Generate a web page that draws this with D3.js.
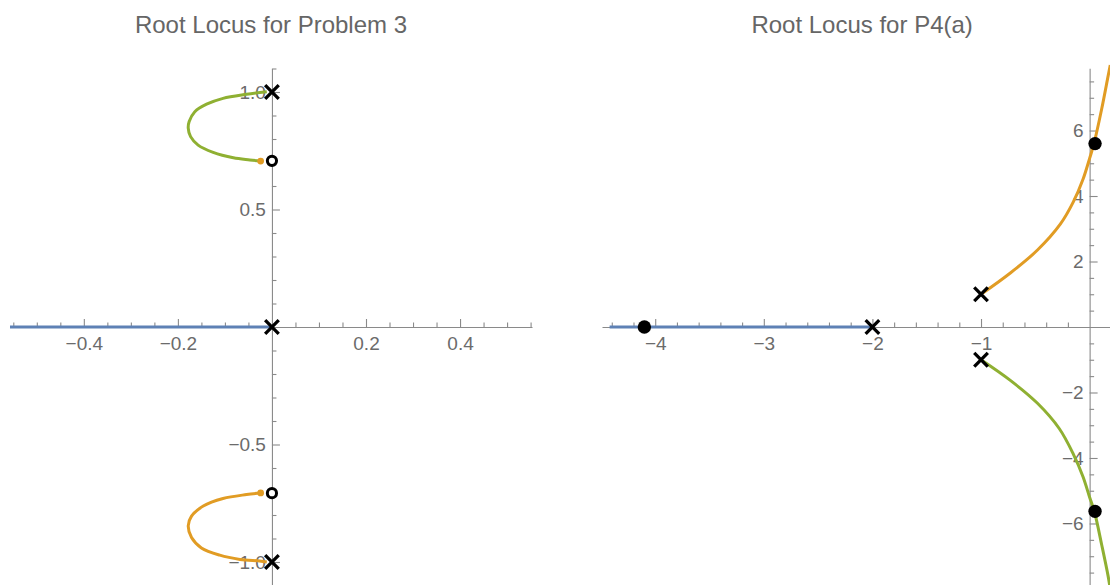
<!DOCTYPE html>
<html>
<head>
<meta charset="utf-8">
<script src="https://cdn.jsdelivr.net/npm/d3@7"></script>
<style>
    html, body { margin: 0; padding: 0; background: #fff; }
    svg { display: block; }
    .tick text { font-family: "Liberation Sans", Arial, sans-serif; font-size: 19px; fill: #6b6b6b; }
    .title { font-family: "Liberation Sans", Arial, sans-serif; font-size: 24px; fill: #666; }
</style>
</head>
<body>
<svg id="chart" width="1110" height="585"></svg>
<script>

/* ------------------------------
   DATA
------------------------------ */

// Problem 3
const p3PolesX = [0, 0, 0];
const p3PolesY = [1, 0, -1];
const p3ZerosX = [0, 0];
const p3ZerosY = [0.707, -0.707];
const p3RealX = [-0.557, 0];
const p3UpperX = [-0.011, -0.054, -0.104, -0.139, -0.164, -0.176, -0.178, -0.173, -0.157, -0.125, -0.082, -0.047, -0.024];
const p3UpperY = [1.001, 0.990, 0.973, 0.948, 0.916, 0.874, 0.846, 0.810, 0.774, 0.743, 0.720, 0.711, 0.706];
const p3LowerX = [-0.024, -0.054, -0.104, -0.146, -0.171, -0.178, -0.171, -0.150, -0.111, -0.068, -0.026, -0.011];
const p3LowerY = [-0.706, -0.713, -0.730, -0.762, -0.805, -0.846, -0.896, -0.940, -0.971, -0.989, -0.996, -1.0];
const p3EndX = [-0.024, -0.024];
const p3EndY = [0.706, -0.706];
const p3XTicks = [-0.4, -0.2, 0.2, 0.4];
const p3YTicks = [-1.0, -0.5, 0.5, 1.0];

// P4(a)
const p4PolesX = [-2, -1, -1];
const p4PolesY = [0, 1, -1];
const p4DotsX = [-4.1, 0.05, 0.05];
const p4DotsY = [0, 5.6, -5.63];
const p4RealX = [-4.42, -2];
const p4UpperX = [-1, -0.73, -0.48, -0.27, -0.15, -0.06, 0.0, 0.04, 0.11, 0.17, 0.19];
const p4UpperY = [1, 1.65, 2.35, 3.14, 3.82, 4.52, 5.15, 5.6, 6.64, 7.66, 8.0];
const p4LowerX = [-1, -0.73, -0.48, -0.28, -0.15, -0.06, 0.0, 0.045, 0.113, 0.17, 0.19];
const p4LowerY = [-1, -1.63, -2.33, -3.1, -3.88, -4.58, -5.2, -5.65, -6.68, -7.6, -8.0];
const p4XTicks = [-4, -3, -2, -1];
const p4YTicks = [-6, -4, -2, 2, 4, 6];

const colBlue = "#5e81b5";
const colOrange = "#e19c24";
const colGreen = "#8fb032";

const svg = d3.select("#chart");

const fmt = d => d3.format(".1f")(d).replace("-", "\u2212");
const fmtInt = d => String(d).replace("-", "\u2212");

/* ------------------------------
   PANEL
------------------------------ */

function drawPanel(cfg) {

    const g = svg.append("g");
    const x = d3.scaleLinear().domain(cfg.xDomain).range(cfg.xRange);
    const y = d3.scaleLinear().domain(cfg.yDomain).range(cfg.yRange);
    const x0 = x(0), y0 = y(0);

    // minor ticks first
    g.append("g")
        .attr("transform", `translate(0,${y0})`)
        .call(d3.axisBottom(x).tickValues(cfg.xMinor).tickSizeInner(-4.5).tickSizeOuter(0).tickFormat(""))
        .call(a => a.select(".domain").remove());
    g.append("g")
        .attr("transform", `translate(${x0},0)`)
        .call(d3.axisLeft(y).tickValues(cfg.yMinor).tickSizeInner(-4.5).tickSizeOuter(0).tickFormat(""))
        .call(a => a.select(".domain").remove());

    // major ticks + axis lines
    g.append("g")
        .attr("transform", `translate(0,${y0})`)
        .call(d3.axisBottom(x).tickValues(cfg.xTicks).tickSizeInner(-8).tickSizeOuter(0).tickPadding(10).tickFormat(cfg.fmt));
    g.append("g")
        .attr("transform", `translate(${x0},0)`)
        .call(d3.axisLeft(y).tickValues(cfg.yTicks).tickSizeInner(-8).tickSizeOuter(0).tickPadding(6).tickFormat(cfg.fmt));

    g.selectAll(".domain, .tick line").attr("stroke", "#8a8a8a").attr("stroke-width", 1.1);

    // title
    g.append("text")
        .attr("class", "title")
        .attr("x", (cfg.xRange[0] + cfg.xRange[1]) / 2)
        .attr("y", 33)
        .attr("text-anchor", "middle")
        .text(cfg.title);

    const line = d3.line().x(d => x(d[0])).y(d => y(d[1])).curve(d3.curveCatmullRom);

    // real axis branch
    g.append("path")
        .datum(cfg.realX.map(v => [v, 0]))
        .attr("d", line)
        .attr("fill", "none")
        .attr("stroke", colBlue)
        .attr("stroke-width", 3);

    cfg.branches.forEach(b => {
        g.append("path")
            .datum(b.xs.map((v, i) => [v, b.ys[i]]))
            .attr("d", line)
            .attr("fill", "none")
            .attr("stroke", b.color)
            .attr("stroke-width", 3);
    });

    return { g, x, y };
}

function drawCross(g, x, y, xs, ys) {
    const s = 6.8;
    g.selectAll(null)
        .data(xs.map((v, i) => [v, ys[i]]))
        .enter()
        .append("path")
        .attr("d", d => {
            const cx = x(d[0]), cy = y(d[1]);
            return `M${cx - s},${cy - s}L${cx + s},${cy + s}M${cx - s},${cy + s}L${cx + s},${cy - s}`;
        })
        .attr("stroke", "#000")
        .attr("stroke-width", 3.3)
        .attr("fill", "none");
}

function drawDots(g, x, y, xs, ys, r, fill, stroke, sw) {
    g.selectAll(null)
        .data(xs.map((v, i) => [v, ys[i]]))
        .enter()
        .append("circle")
        .attr("cx", d => x(d[0]))
        .attr("cy", d => y(d[1]))
        .attr("r", r)
        .attr("fill", fill)
        .attr("stroke", stroke)
        .attr("stroke-width", sw);
}

/* ------------------------------
   LEFT: PROBLEM 3
------------------------------ */

const left = drawPanel({
    title: "Root Locus for Problem 3",
    xDomain: [-0.557, 0.553], xRange: [10, 532],
    yDomain: [-1.1, 1.1], yRange: [585.5, 68.5],
    xTicks: p3XTicks, yTicks: p3YTicks,
    xMinor: d3.range(-11, 12).filter(i => i % 4 !== 0).map(i => i * 0.05),
    yMinor: d3.range(-11, 12).filter(i => i % 5 !== 0).map(i => i * 0.1),
    fmt: fmt,
    realX: p3RealX,
    branches: [
        { xs: p3UpperX, ys: p3UpperY, color: colGreen },
        { xs: p3LowerX, ys: p3LowerY, color: colOrange }
    ]
});

drawDots(left.g, left.x, left.y, p3EndX, p3EndY, 3.4, colOrange, "none", 0);
drawDots(left.g, left.x, left.y, p3ZerosX, p3ZerosY, 4.6, "#fff", "#000", 3);
drawCross(left.g, left.x, left.y, p3PolesX, p3PolesY);

/* ------------------------------
   RIGHT: P4(a)
------------------------------ */

const right = drawPanel({
    title: "Root Locus for P4(a)",
    xDomain: [-4.49, 0.30], xRange: [602, 1122.2],
    yDomain: [-7.9, 7.9], yRange: [585.7, 68.3],
    xTicks: p4XTicks, yTicks: p4YTicks,
    xMinor: d3.range(-22, 2).filter(i => i % 5 !== 0).map(i => i * 0.2),
    yMinor: d3.range(-15, 16).filter(i => i % 4 !== 0).map(i => i * 0.5),
    fmt: fmtInt,
    realX: p4RealX,
    branches: [
        { xs: p4UpperX, ys: p4UpperY, color: colOrange },
        { xs: p4LowerX, ys: p4LowerY, color: colGreen }
    ]
});

drawDots(right.g, right.x, right.y, p4DotsX, p4DotsY, 6.7, "#000", "none", 0);
drawCross(right.g, right.x, right.y, p4PolesX, p4PolesY);

</script>
</body>
</html>
